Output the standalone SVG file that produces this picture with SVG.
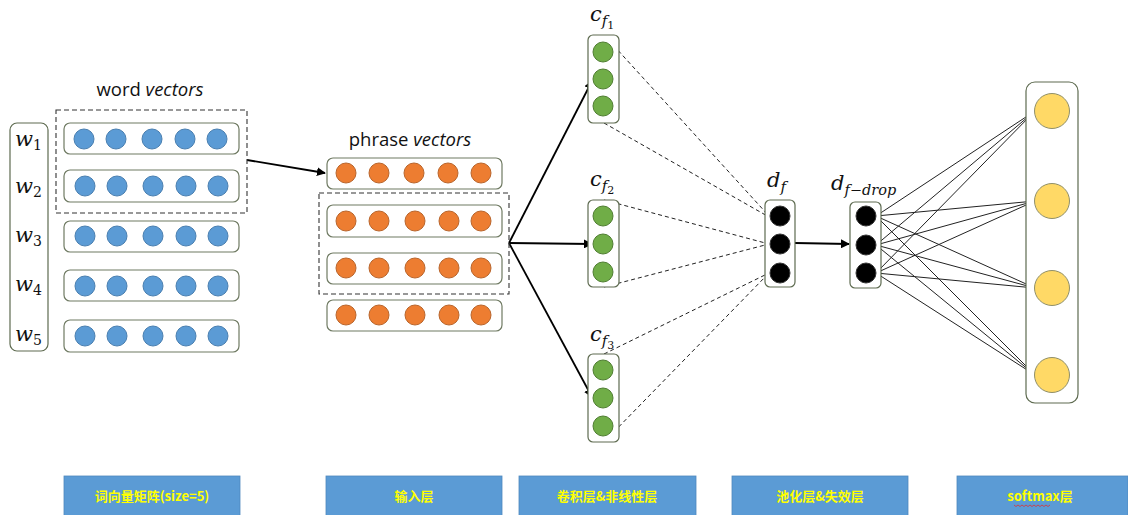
<svg xmlns="http://www.w3.org/2000/svg" width="1128" height="515" viewBox="0 0 1128 515">
  <defs>
    <style>
      .row { fill: #ffffff; stroke: #6f7a62; stroke-width: 1.2; }
      .col { fill: #ffffff; stroke: #5e6b50; stroke-width: 1.2; }
      .dash { fill: none; stroke: #333; stroke-width: 1.1; stroke-dasharray: 5 3; }
      .blue { fill: #5b9bd5; stroke: #4a7fb0; stroke-width: 1; }
      .orange { fill: #ed7d31; stroke: #b9652c; stroke-width: 1; }
      .green { fill: #70ad47; stroke: #507e32; stroke-width: 1; }
      .black { fill: #000; stroke: #333; stroke-width: 1; }
      .yellow { fill: #ffd966; stroke: #8f8f6a; stroke-width: 1; }
      .arrow { fill: none; stroke: #000; stroke-width: 1.8; marker-end: url(#head); }
      .thin { fill: none; stroke: #222; stroke-width: 1; }
      .dotted { fill: none; stroke: #222; stroke-width: 1; stroke-dasharray: 4 3; }
      .title { font-family: "Open Sans", "Liberation Sans", sans-serif; font-size: 18.5px; fill: #111; }
      .math { font-family: "DejaVu Serif", "Liberation Serif", serif; font-style: italic; fill: #111; }
      .sub { font-family: "DejaVu Serif", "Liberation Serif", serif; fill: #111; }
      .band { fill: #5b9bd5; stroke: #4f88bd; stroke-width: 0.8; }
      .bandtext { font-family: "Noto Sans CJK SC", "Noto Sans", sans-serif; font-weight: bold; font-size: 13px; fill: #ffff00; text-anchor: middle; }
    </style>
    <marker id="head" viewBox="0 0 10 10" refX="9" refY="5" markerWidth="5" markerHeight="5" orient="auto">
      <path d="M0,0 L10,5 L0,10 z" fill="#000"/>
    </marker>
  </defs>
  <rect width="1128" height="515" fill="#ffffff"/>

  <!-- connectors -->
  <g id="connectors">
    <line class="arrow" x1="247" y1="160" x2="325" y2="173"/>
    <line class="arrow" x1="509" y1="243" x2="592" y2="81"/>
    <line class="arrow" x1="509" y1="243" x2="592" y2="244"/>
    <line class="arrow" x1="509" y1="243" x2="592" y2="397"/>
    <line class="arrow" x1="795" y1="243" x2="849" y2="244"/>
    <!-- feature maps to pooled vector -->
    <line class="dotted" x1="604" y1="35" x2="769" y2="216"/>
    <line class="dotted" x1="604" y1="123" x2="769" y2="217"/>
    <line class="dotted" x1="604" y1="200" x2="769" y2="244"/>
    <line class="dotted" x1="604" y1="287" x2="769" y2="244"/>
    <line class="dotted" x1="604" y1="354" x2="769" y2="273"/>
    <line class="dotted" x1="604" y1="442" x2="769" y2="273"/>
    <!-- dense links to softmax -->
    <g class="thin">
      <line x1="876" y1="216" x2="1035" y2="111"/>
      <line x1="876" y1="216" x2="1035" y2="201"/>
      <line x1="876" y1="216" x2="1035" y2="288"/>
      <line x1="876" y1="216" x2="1035" y2="375"/>
      <line x1="876" y1="245" x2="1035" y2="111"/>
      <line x1="876" y1="245" x2="1035" y2="201"/>
      <line x1="876" y1="245" x2="1035" y2="288"/>
      <line x1="876" y1="245" x2="1035" y2="375"/>
      <line x1="876" y1="273" x2="1035" y2="111"/>
      <line x1="876" y1="273" x2="1035" y2="201"/>
      <line x1="876" y1="273" x2="1035" y2="288"/>
      <line x1="876" y1="273" x2="1035" y2="375"/>
    </g>
  </g>

  <!-- word labels -->
  <g id="words">
    <rect class="col" x="10" y="123" width="38" height="228" rx="7"/>
    <text class="math" font-size="21" x="15" y="146">w<tspan class="sub" font-style="normal" font-size="14" dy="4">1</tspan></text>
    <text class="math" font-size="21" x="15" y="193">w<tspan class="sub" font-style="normal" font-size="14" dy="4">2</tspan></text>
    <text class="math" font-size="21" x="15" y="242">w<tspan class="sub" font-style="normal" font-size="14" dy="4">3</tspan></text>
    <text class="math" font-size="21" x="15" y="291">w<tspan class="sub" font-style="normal" font-size="14" dy="4">4</tspan></text>
    <text class="math" font-size="21" x="15" y="341">w<tspan class="sub" font-style="normal" font-size="14" dy="4">5</tspan></text>
  </g>

  <!-- word vectors -->
  <g id="word-vectors">
    <text class="title" x="150" y="96" text-anchor="middle">word <tspan font-style="italic">vectors</tspan></text>
    <rect class="dash" x="56" y="110" width="191" height="103"/>
    <rect class="row" x="64" y="123" width="175" height="31" rx="6"/>
    <rect class="row" x="64" y="170" width="175" height="32" rx="6"/>
    <rect class="row" x="64" y="221" width="175" height="31" rx="6"/>
    <rect class="row" x="64" y="270" width="175" height="31" rx="6"/>
    <rect class="row" x="64" y="320" width="175" height="32" rx="6"/>
    <g class="blue">
      <circle cx="84" cy="139" r="10"/><circle cx="116" cy="139" r="10"/><circle cx="152" cy="139" r="10"/><circle cx="185" cy="139" r="10"/><circle cx="217" cy="139" r="10"/>
      <circle cx="85" cy="186" r="10"/><circle cx="117" cy="186" r="10"/><circle cx="153" cy="186" r="10"/><circle cx="186" cy="186" r="10"/><circle cx="218" cy="186" r="10"/>
      <circle cx="85" cy="236" r="10"/><circle cx="117" cy="236" r="10"/><circle cx="153" cy="236" r="10"/><circle cx="186" cy="236" r="10"/><circle cx="218" cy="236" r="10"/>
      <circle cx="85" cy="286" r="10"/><circle cx="117" cy="286" r="10"/><circle cx="153" cy="286" r="10"/><circle cx="186" cy="286" r="10"/><circle cx="218" cy="286" r="10"/>
      <circle cx="85" cy="336" r="10"/><circle cx="117" cy="336" r="10"/><circle cx="153" cy="336" r="10"/><circle cx="186" cy="336" r="10"/><circle cx="218" cy="336" r="10"/>
    </g>
  </g>

  <!-- phrase vectors -->
  <g id="phrase-vectors">
    <text class="title" x="410" y="146" text-anchor="middle">phrase <tspan font-style="italic">vectors</tspan></text>
    <rect class="dash" x="319" y="193" width="190" height="101"/>
    <rect class="row" x="327" y="158" width="175" height="31" rx="6"/>
    <rect class="row" x="327" y="205" width="175" height="32" rx="6"/>
    <rect class="row" x="327" y="253" width="175" height="31" rx="6"/>
    <rect class="row" x="327" y="300" width="175" height="31" rx="6"/>
    <g class="orange">
      <circle cx="346" cy="173" r="10"/><circle cx="379" cy="173" r="10"/><circle cx="414" cy="173" r="10"/><circle cx="448" cy="173" r="10"/><circle cx="481" cy="173" r="10"/>
      <circle cx="346" cy="221" r="10"/><circle cx="379" cy="221" r="10"/><circle cx="415" cy="221" r="10"/><circle cx="449" cy="221" r="10"/><circle cx="481" cy="221" r="10"/>
      <circle cx="346" cy="268" r="10"/><circle cx="379" cy="268" r="10"/><circle cx="415" cy="268" r="10"/><circle cx="449" cy="268" r="10"/><circle cx="481" cy="268" r="10"/>
      <circle cx="346" cy="315" r="10"/><circle cx="379" cy="315" r="10"/><circle cx="415" cy="315" r="10"/><circle cx="449" cy="315" r="10"/><circle cx="481" cy="315" r="10"/>
    </g>
  </g>

  <!-- convolution feature maps -->
  <g id="cf1">
    <text class="math" font-size="21" x="590" y="21">c<tspan font-size="15" dy="5">f</tspan><tspan class="sub" font-style="normal" font-size="11" dy="3">1</tspan></text>
    <rect class="col" x="588" y="35" width="31" height="88" rx="5"/>
    <circle class="green" cx="603" cy="52" r="10"/>
    <circle class="green" cx="603" cy="79" r="10"/>
    <circle class="green" cx="603" cy="106" r="10"/>
  </g>
  <g id="cf2">
    <text class="math" font-size="21" x="590" y="186">c<tspan font-size="15" dy="5">f</tspan><tspan class="sub" font-style="normal" font-size="11" dy="3">2</tspan></text>
    <rect class="col" x="588" y="200" width="31" height="87" rx="5"/>
    <circle class="green" cx="603" cy="216" r="10"/>
    <circle class="green" cx="603" cy="244" r="10"/>
    <circle class="green" cx="603" cy="272" r="10"/>
  </g>
  <g id="cf3">
    <text class="math" font-size="21" x="590" y="341">c<tspan font-size="15" dy="5">f</tspan><tspan class="sub" font-style="normal" font-size="11" dy="3">3</tspan></text>
    <rect class="col" x="588" y="354" width="31" height="88" rx="5"/>
    <circle class="green" cx="603" cy="370" r="10"/>
    <circle class="green" cx="603" cy="398" r="10"/>
    <circle class="green" cx="603" cy="426" r="10"/>
  </g>

  <!-- pooled vector -->
  <g id="df">
    <text class="math" font-size="21" x="767" y="187">d<tspan font-size="15" dy="5">f</tspan></text>
    <rect class="col" x="765" y="200" width="30" height="87" rx="5"/>
    <circle class="black" cx="780" cy="216" r="10"/>
    <circle class="black" cx="780" cy="244" r="10"/>
    <circle class="black" cx="780" cy="273" r="10"/>
  </g>

  <!-- pooled vector after dropout -->
  <g id="df-drop">
    <text class="math" font-size="21" x="831" y="190">d<tspan font-size="14.5" dy="5">f−drop</tspan></text>
    <rect class="col" x="850" y="202" width="31" height="86" rx="5"/>
    <circle class="black" cx="866" cy="216" r="10"/>
    <circle class="black" cx="866" cy="245" r="10"/>
    <circle class="black" cx="866" cy="273" r="10"/>
  </g>

  <!-- softmax output -->
  <g id="softmax">
    <rect class="col" x="1026" y="82" width="52" height="321" rx="9"/>
    <circle class="yellow" cx="1052" cy="111" r="17.5"/>
    <circle class="yellow" cx="1052" cy="201" r="17.5"/>
    <circle class="yellow" cx="1052" cy="288" r="17.5"/>
    <circle class="yellow" cx="1052" cy="375" r="17.5"/>
  </g>

  <!-- layer captions -->
  <g id="caption-embedding">
    <rect class="band" x="64" y="476" width="176" height="42"/>
    <text class="bandtext" x="152" y="501">词向量矩阵(size=5)</text>
  </g>
  <g id="caption-input">
    <rect class="band" x="326" y="476" width="176" height="42"/>
    <text class="bandtext" x="414" y="501">输入层</text>
  </g>
  <g id="caption-conv">
    <rect class="band" x="519" y="476" width="177" height="42"/>
    <text class="bandtext" x="607" y="501">卷积层&amp;非线性层</text>
  </g>
  <g id="caption-pool">
    <rect class="band" x="732" y="476" width="176" height="42"/>
    <text class="bandtext" x="820" y="501">池化层&amp;失效层</text>
  </g>
  <g id="caption-softmax">
    <rect class="band" x="957" y="476" width="171" height="42"/>
    <text class="bandtext" x="1040" y="501">softmax层</text>
    <path d="M1014,505 l2,1.5 l2,-1.5 l2,1.5 l2,-1.5 l2,1.5 l2,-1.5 l2,1.5 l2,-1.5 l2,1.5 l2,-1.5 l2,1.5 l2,-1.5 l2,1.5 l2,-1.5 l2,1.5 l2,-1.5 l2,1.5 l2,-1.5" fill="none" stroke="#e03030" stroke-width="0.8"/>
  </g>
</svg>
